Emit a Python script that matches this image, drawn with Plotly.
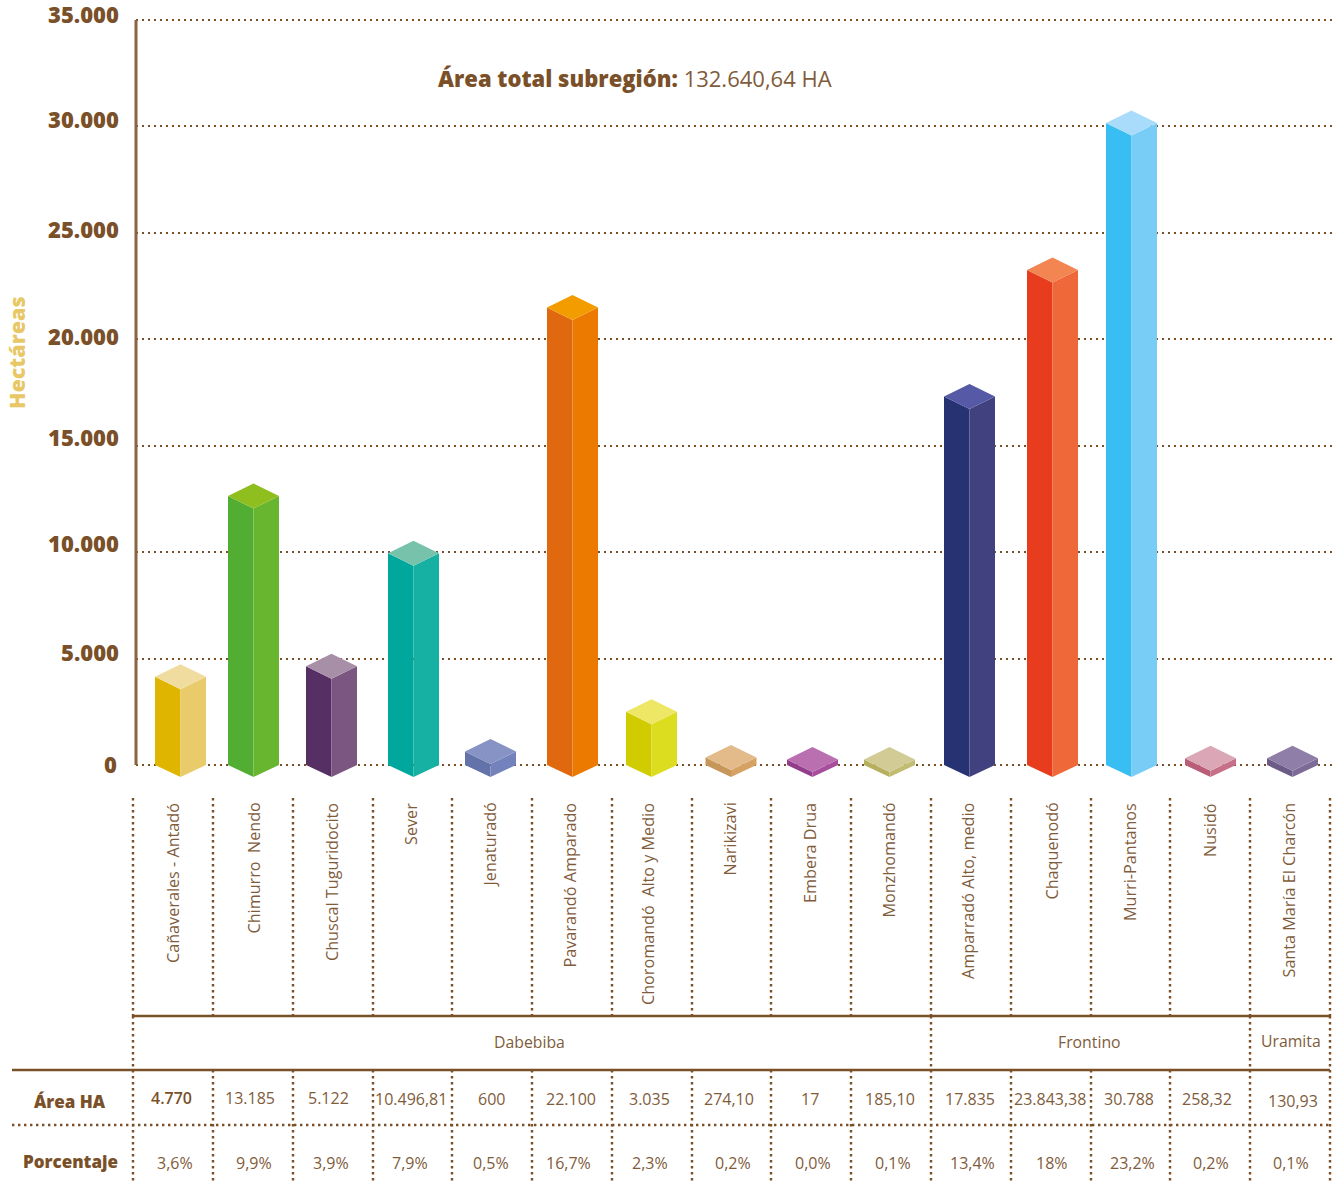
import plotly.graph_objects as go

FONT = "Open Sans"
DARK = "#7A5029"
TEXT = "#7F5C3C"
YEL = "#E8C766"

categories = ["Cañaverales - Antadó", "Chimurro\u00a0 Nendo", "Chuscal Tuguridocito", "Sever", "Jenaturadó",
              "Pavarandó Amparado", "Choromandó\u00a0 Alto y Medio", "Narikizavi", "Embera Drua", "Monzhomandó",
              "Amparradó Alto, medio", "Chaquenodó", "Murri-Pantanos", "Nusidó", "Santa María El Charcón"]
# drawn height of each bar (small bars are drawn taller than their table value in the picture)
drawn_values = [4730, 13230, 5230, 10540, 1220, 22080, 3090, 940, 840, 840, 17900, 23843.38, 30750, 900, 900]
area_labels = ["4.770", "13.185", "5.122", "10.496,81", "600", "22.100", "3.035", "274,10", "17", "185,10",
               "17.835", "23.843,38", "30.788", "258,32", "130,93"]
pct_labels = ["3,6%", "9,9%", "3,9%", "7,9%", "0,5%", "16,7%", "2,3%", "0,2%", "0,0%", "0,1%",
              "13,4%", "18%", "23,2%", "0,2%", "0,1%"]
y_ticks = [0, 5000, 10000, 15000, 20000, 25000, 30000, 35000]
y_tick_labels = ["0", "5.000", "10.000", "15.000", "20.000", "25.000", "30.000", "35.000"]
groups = ["Dabebiba", "Frontino", "Uramita"]

# layout (page pixels)
bar_x = [180.5, 253.5, 331.5, 413.5, 490.5, 572.5, 651.5, 731, 812.5, 889.5, 969.5, 1052.5, 1131.5, 1210.5, 1292.5]
label_x = [173, 253, 332, 411, 489, 569, 648, 729, 810, 888, 968, 1051, 1130, 1210, 1288]
area_x = [171, 250, 328, 411, 491, 571, 649, 729, 810, 890, 970, 1050, 1129, 1207, 1293]
area_y = [1098, 1098, 1098, 1099, 1099, 1099, 1099, 1099, 1099, 1099, 1099, 1099, 1099, 1099, 1101]
pct_x = [175, 254, 331, 410, 491, 568, 650, 733, 813, 893, 972, 1052, 1132, 1211, 1291]
sep_x = [133, 213, 293, 373, 452, 532, 612, 692, 771, 851, 931, 1011, 1091, 1170, 1250, 1330]
group_sep = [133, 931, 1250, 1330]
group_pos = [(529, 1042), (1089, 1042), (1291, 1041)]
tick_label_pos = [(119, 764), (121, 652), (121, 543), (121, 437), (121, 336), (121, 229), (121, 119), (121, 14)]

colors_left = ["#E0B500", "#52AE32", "#563064", "#00A79D", "#6372A8", "#E0690F", "#D0CC00", "#C6965A", "#933C8C",
               "#B5AF5E", "#273272", "#E73C1E", "#38BEF2", "#B95D78", "#6C5B86"]
colors_right = ["#EACB6B", "#68B52F", "#7B5680", "#17B1A4", "#7381BD", "#EC7A00", "#DDDD20", "#D5A264", "#A84C9C",
                "#C2BC72", "#41417F", "#EE6839", "#77CDF6", "#C6708A", "#7C6A97"]
colors_top = ["#F0DC9E", "#8FBE1F", "#A88FA8", "#76C2AB", "#8792C5", "#F29C00", "#EDE765", "#E3BA8A", "#B96FB0",
              "#D2CB95", "#5659A6", "#F28552", "#A9DCFA", "#DBA7B6", "#8F7FA8"]

W, H = 1340, 1184
L, R, T, B = 136, 1335, 10, 777
PX_PER_UNIT = (765 - 20) / 35000
Y_MIN = -(B - 765) / PX_PER_UNIT
Y_MAX = (765 - T) / PX_PER_UNIT
HALF_W = 25.5
D = 12.5 / PX_PER_UNIT
DOT = "2.4px,3.6px"


def yp(y):
    return (B - y) / (B - T)


def xp(x):
    return (x - L) / (R - L)


fig = go.Figure()


def face(xs, ys, color):
    fig.add_trace(go.Scatter(x=xs, y=ys, mode="lines", fill="toself", fillcolor=color,
                             line=dict(width=0, color=color), hoverinfo="skip", showlegend=False))


for c, v, cl, cr, ct in zip(bar_x, drawn_values, colors_left, colors_right, colors_top):
    face([c - HALF_W, c, c, c - HALF_W, c - HALF_W], [v - D, v - 2 * D, Y_MIN, 0, v - D], cl)
    face([c + HALF_W, c, c, c + HALF_W, c + HALF_W], [v - D, v - 2 * D, Y_MIN, 0, v - D], cr)
    face([c, c + HALF_W, c, c - HALF_W, c], [v, v - D, v - 2 * D, v - D, v], ct)

shapes = []


def hline(x0, x1, y, dash=None, width=2.5):
    shapes.append(dict(type="line", xref="paper", yref="paper", x0=xp(x0), x1=xp(x1), y0=yp(y), y1=yp(y),
                       line=dict(color=DARK, width=width, dash=dash or "solid")))


def vline(x, y0, y1):
    shapes.append(dict(type="line", xref="paper", yref="paper", x0=xp(x), x1=xp(x), y0=yp(y0), y1=yp(y1),
                       line=dict(color=DARK, width=2.4, dash=DOT)))


for x in sep_x:
    vline(x, 798, 1016)
    vline(x, 1070, 1184)
for x in group_sep:
    vline(x, 1016, 1070)
hline(133, 1330, 1016)
hline(12, 1330, 1070)
hline(12, 1330, 1125, dash=DOT, width=2.4)
# y axis line
shapes.append(dict(type="line", xref="paper", yref="y", x0=0, x1=0, y0=0, y1=35000,
                   line=dict(color="#8A6542", width=3)))

ann = []


def text(x, y, s, size=15, color=TEXT, angle=0, xa="center", ya="middle", weight=None):
    f = dict(family=FONT, size=size, color=color)
    if weight:
        f["weight"] = weight
    ann.append(dict(x=xp(x), y=yp(y), xref="paper", yref="paper", text=s, showarrow=False, textangle=angle,
                    xanchor=xa, yanchor=ya, align="center", font=f))


for lab, (x, y) in zip(y_tick_labels, tick_label_pos):
    text(x, y, lab, size=22, color=DARK, xa="right", weight=800)
text(16, 353, "Hectáreas", size=21.5, color=YEL, angle=-90, weight=800)
text(436, 78, f"<span style=\"font-weight:800\">Área total subregión:</span> "
              f"<span style=\"color:{TEXT}\">132.640,64 HA</span>",
     size=22, color=DARK, xa="left")
for x, lab in zip(label_x, categories):
    text(x, 801, lab, size=16.2, angle=-90, ya="top")
for g, (x, y) in zip(groups, group_pos):
    text(x, y, g, size=15.8)
for i, (x, y, lab) in enumerate(zip(area_x, area_y, area_labels)):
    text(x, y, lab, size=16, color=DARK if i == 0 else TEXT, weight=600 if i == 0 else None)
for x, lab in zip(pct_x, pct_labels):
    text(x, 1163, lab, size=16)
text(70, 1101, "Área HA", size=17, color=DARK, weight=800)
text(70, 1161, "Porcentaje", size=17, color=DARK, weight=800)

fig.update_layout(
    width=W, height=H, autosize=False,
    margin=dict(l=L, r=W - R, t=T, b=H - B, pad=0),
    paper_bgcolor="white", plot_bgcolor="white",
    showlegend=False, shapes=shapes, annotations=ann,
    xaxis=dict(range=[L, R], visible=False, showgrid=False, zeroline=False),
    yaxis=dict(range=[Y_MIN, Y_MAX], tickmode="array", tickvals=y_ticks, showticklabels=False,
               showgrid=True, griddash=DOT, gridcolor=DARK, gridwidth=2.4, zeroline=False,
               showline=False, ticks=""),
)
fig.write_html("out.html", post_script="document.body.style.margin='0';", config={"displayModeBar": False})
